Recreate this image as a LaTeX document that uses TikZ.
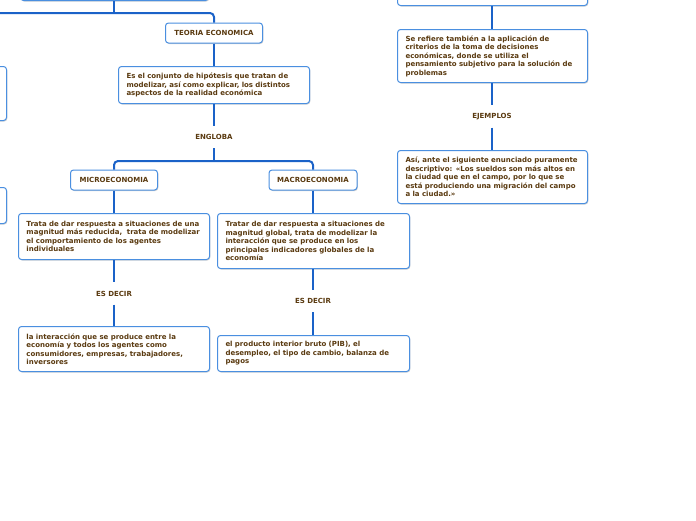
\documentclass[tikz,border=0pt]{standalone}
\usepackage{fontspec}
\setmainfont{DejaVu Sans}
\usetikzlibrary{shadows}
\definecolor{boxblue}{HTML}{4A8FE0}
\definecolor{linkblue}{HTML}{1A62C8}
\definecolor{txt}{HTML}{5A3A10}
\tikzset{
  box/.style={draw=boxblue, fill=white, line width=1pt, rounded corners=3pt,
    align=left, inner xsep=8pt, inner ysep=2pt, anchor=north west,
    font=\fontsize{7}{8.5}\selectfont\bfseries, text=txt,
    drop shadow={opacity=0.35, shadow xshift=0.8pt, shadow yshift=-1pt, fill=black!50}},
  titlebox/.style={box, align=center, anchor=center, inner xsep=2pt},
  lab/.style={font=\fontsize{7}{8}\selectfont\bfseries, text=txt, minimum height=22pt, inner sep=0pt},
  conn/.style={draw=linkblue, line width=2pt, rounded corners=4pt}
}
\begin{document}
\begin{tikzpicture}[x=1pt,y=-1pt]
\clip (0,0) rectangle (696,520);
\fill[white] (0,0) rectangle (696,520);
% partial boxes at edges
\node[box, minimum width=188pt, minimum height=30pt] (topleft) at (20,-30) {};
\node[box, minimum width=190pt, minimum height=30pt] (topright) at (397,-25) {};
\node[box, minimum width=100pt, minimum height=54pt] (left1) at (-94,66) {};
\node[box, minimum width=100pt, minimum height=36pt] (left2) at (-94,187) {};
% main tree
\node[titlebox, minimum width=97pt, minimum height=20pt] (teoria) at (214,33) {TEORIA ECONOMICA};
\node[box, text width=175pt, minimum width=191pt, minimum height=37pt] (def) at (118,66)
 {Es el conjunto de hipótesis que tratan de\\ modelizar, así como explicar, los distintos\\ aspectos de la realidad económica};
\node[lab] (engloba) at (214,137) {ENGLOBA};
\coordinate (split) at (214,161);
\node[titlebox, minimum width=87pt, minimum height=20pt] (micro) at (114,180) {MICROECONOMIA};
\node[titlebox, minimum width=88pt, minimum height=20pt] (macro) at (313,180) {MACROECONOMIA};
\node[box, text width=175pt, minimum width=191pt, minimum height=46pt] (trata) at (18,213)
 {Trata de dar respuesta a situaciones de una\\ magnitud más reducida,\ \ trata de modelizar\\ el comportamiento de los agentes\\ individuales};
\node[box, text width=176pt, minimum width=192pt, minimum height=55pt] (tratar) at (217,213)
 {Tratar de dar respuesta a situaciones de\\ magnitud global, trata de modelizar la\\ interacción que se produce en los\\ principales indicadores globales de la\\ economía};
\node[lab] (esdecir1) at (114,293.5) {ES DECIR};
\node[lab] (esdecir2) at (313,301) {ES DECIR};
\node[box, text width=175pt, minimum width=191pt, minimum height=45pt] (inter) at (18,326)
 {la interacción que se produce entre la\\ economía y todos los agentes como\\ consumidores, empresas, trabajadores,\\ inversores};
\node[box, text width=176pt, minimum width=192pt, minimum height=36pt] (pib) at (217,335)
 {el producto interior bruto (PIB), el\\ desempleo, el tipo de cambio, balanza de\\ pagos};
% right column
\node[box, text width=174pt, minimum width=190pt, minimum height=53pt] (refiere) at (397,29)
 {Se refiere también a la aplicación de\\ criterios de la toma de decisiones\\ económicas, donde se utiliza el\\ pensamiento subjetivo para la solución de\\ problemas};
\node[lab] (ejemplos) at (492,116.5) {EJEMPLOS};
\node[box, text width=174pt, minimum width=190pt, minimum height=53pt] (asi) at (397,150)
 {Así, ante el siguiente enunciado puramente\\ descriptivo: «Los sueldos son más altos en\\ la ciudad que en el campo, por lo que se\\ está produciendo una migración del campo\\ a la ciudad.»};
% connectors
\coordinate (hl) at (-10,13);
\coordinate (hj) at (114,13);
\draw[conn] (topleft.south -| hj) -- (hj);
\draw[conn] (hl) -| (teoria.north);
\draw[conn] (teoria.south) -- (def.north -| teoria.south);
\draw[conn] (def.south -| engloba) -- (engloba.north);
\draw[conn] (engloba.south) -- (split);
\draw[conn] (micro.north) |- (split) -| (macro.north);
\draw[conn] (micro.south) -- (trata.north -| micro.south);
\draw[conn] (macro.south) -- (tratar.north -| macro.south);
\draw[conn] (trata.south -| esdecir1) -- (esdecir1.north);
\draw[conn] (esdecir1.south) -- (inter.north -| esdecir1);
\draw[conn] (tratar.south -| esdecir2) -- (esdecir2.north);
\draw[conn] (esdecir2.south) -- (pib.north -| esdecir2);
\draw[conn] (topright.south -| ejemplos) -- (refiere.north -| ejemplos);
\draw[conn] (refiere.south -| ejemplos) -- (ejemplos.north);
\draw[conn] (ejemplos.south) -- (asi.north -| ejemplos);
\end{tikzpicture}
\end{document}
